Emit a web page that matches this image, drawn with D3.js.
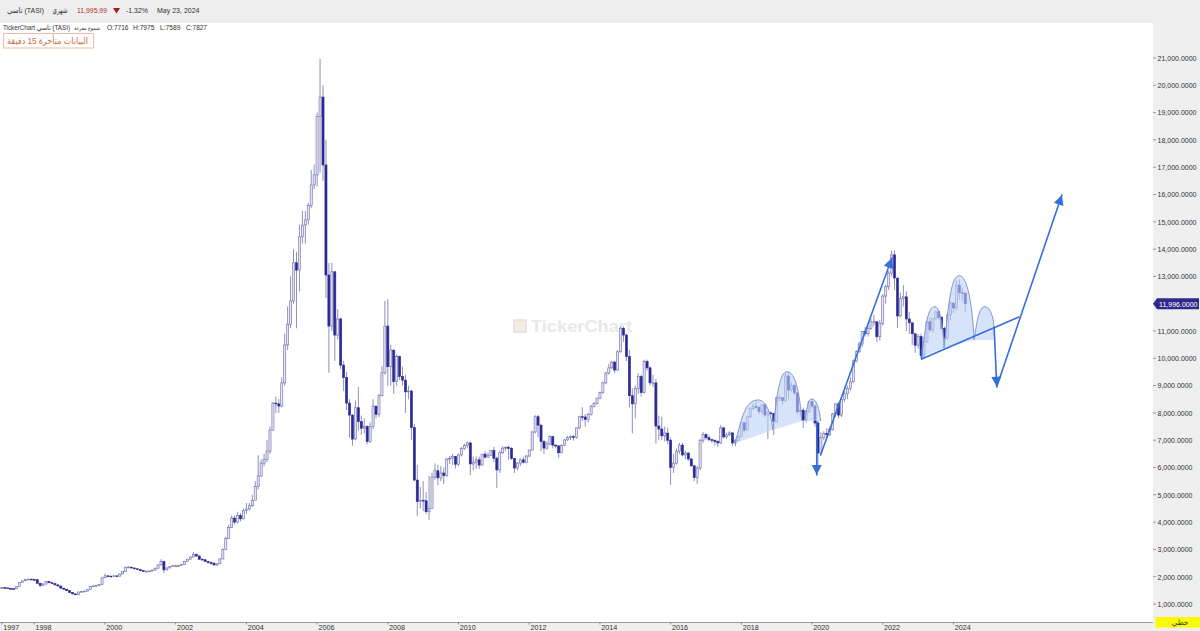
<!DOCTYPE html>
<html><head><meta charset="utf-8">
<script src="https://cdnjs.cloudflare.com/ajax/libs/d3/7.8.5/d3.min.js"></script>
<style>html,body{margin:0;padding:0;background:#fff}svg{display:block}text{font-family:"Liberation Sans","DejaVu Sans",sans-serif}</style>
</head><body><svg id="c" width="1200" height="631"></svg>
<script>
// Monthly candles, first month = Jan 1997 (open of each month = previous close)
const firstOpen = 1570;
const closes = [
1580,1600,1590,1570,1560,1555,1640,1790,1850,1900,1910,1900,
1890,1760,1680,1730,1820,1780,1750,1700,1660,1580,1540,1490,
1420,1370,1340,1440,1460,1470,1540,1640,1660,1680,1720,1960,
2030,2020,2010,2030,2020,2100,2190,2350,2350,2320,2290,2260,
2220,2200,2200,2210,2240,2310,2430,2560,2250,2320,2370,2400,
2400,2410,2450,2560,2640,2720,2820,2760,2640,2620,2560,2520,
2500,2430,2470,2650,2990,3400,3800,4150,4000,4250,4120,4430,
4480,4600,4800,5300,5690,6160,6300,6600,7370,8360,8330,8250,
9100,10490,11250,12100,13500,13230,14450,14880,15070,15600,16350,16720,
18850,19570,17080,13050,11180,13170,10850,11440,9750,9300,8360,7920,
7040,8190,7680,7440,7500,6950,7500,8250,7950,8630,9470,11180,
9690,10300,9150,10060,9330,9200,8770,8800,7460,5540,4750,4800,
4780,4380,4500,5650,5880,5620,5800,5700,6310,6340,6400,6120,
6460,6700,6800,6900,6130,6200,6280,6090,6490,6380,6450,6620,
6340,5910,6540,6710,6740,6700,6330,5980,6160,6280,6190,6420,
6640,7300,7860,7550,6950,6710,6860,7130,6820,6790,6540,6800,
7010,7100,7130,7110,7450,7860,7850,7760,7950,8230,8350,8540,
8750,9100,9460,9650,9860,9570,10240,11100,10850,10060,8630,8330,
8900,9330,8740,9880,9650,9100,9100,7520,7410,7160,7260,7000,
6000,6160,6600,6820,6460,6530,6310,6060,5630,5980,7000,7210,
7090,7020,7000,6950,6900,7450,7120,7200,7270,6900,7000,7130,
7640,7370,7860,8160,8230,8200,8050,8300,7920,8000,7980,7680,
8550,8560,8450,9350,8840,9000,8730,8040,8100,7740,8050,8410,
8250,7630,6530,7100,7250,7200,7400,7960,8330,7920,8500,8700,
8900,9140,9900,10240,10520,10980,10900,11100,11340,11340,10790,11280,
12280,12620,13120,13790,12940,11550,12200,12250,11440,11300,10900,10480,
10800,10100,10610,11340,11040,11460,11700,11500,11100,10740,11590,12020,
11840,12680,12400,12390,11996];
const highs = [
1600,1620,1610,1600,1580,1570,1650,1800,1870,1920,1930,1930,
1910,1890,1780,1760,1830,1830,1790,1750,1710,1670,1590,1550,
1500,1430,1380,1450,1480,1490,1550,1650,1680,1700,1740,1980,
2110,2060,2040,2050,2050,2110,2200,2370,2390,2370,2330,2310,
2270,2240,2230,2230,2260,2330,2450,2640,2580,2340,2390,2430,
2440,2430,2470,2580,2660,2750,2900,2850,2780,2680,2640,2570,
2560,2510,2500,2680,3040,3460,3900,4240,4230,4380,4330,4500,
4700,4700,5000,5500,6450,6300,6500,7000,7500,8400,8600,8500,
9300,10900,11900,13000,14000,13900,14900,15400,15400,15700,16900,17100,
19000,20966,20000,18000,13490,13500,13200,11800,11500,9900,9500,8500,
7950,8450,8950,7900,7800,7550,7650,8500,8250,8700,9700,12100,
12170,10500,10300,10150,10100,9700,9400,9000,8850,7600,6100,5300,
5500,5100,5700,5800,6150,6100,6050,6000,6350,6420,6500,6420,
6520,6750,6870,6950,6950,6400,6400,6400,6500,6600,6550,6640,
6760,6400,6620,6780,6780,6800,6750,6350,6200,6330,6400,6460,
6650,7350,7920,7930,7600,7000,6950,7180,7150,6850,6830,6850,
7040,7150,7180,7180,7470,7900,8210,7950,8000,8300,8400,8560,
8780,9150,9500,9800,9900,9900,10300,11160,11160,10900,10300,8900,
9000,9450,9400,9950,9950,9700,9400,9250,7900,7860,7500,7450,
7100,6500,6700,6900,6900,6600,6560,6350,6100,6050,7050,7300,
7250,7180,7060,7020,7000,7560,7500,7280,7330,7270,7050,7200,
7680,7660,7900,8190,8340,8400,8260,8330,8340,8080,8060,8000,
8600,8650,8580,9450,9500,9130,9050,8760,8150,8200,8100,8450,
8520,8300,7700,7300,7330,7450,7500,8000,8350,8400,8550,8800,
9000,9300,9950,10300,10600,11000,11150,11200,11450,11600,11360,11400,
12350,12700,13200,13950,13950,12950,12400,12680,12450,11700,11300,10800,
10900,10900,10750,11350,11500,11480,11750,11750,11550,11150,11650,12100,
12050,12850,12900,12600,12400];
const lows = [
1560,1575,1580,1560,1545,1540,1550,1640,1780,1840,1890,1880,
1850,1740,1620,1670,1720,1760,1730,1680,1640,1570,1520,1470,
1400,1350,1320,1330,1420,1450,1460,1530,1630,1650,1670,1700,
1950,2000,1990,2000,2000,2010,2090,2180,2320,2300,2270,2240,
2200,2180,2180,2190,2200,2230,2300,2410,2130,2230,2310,2360,
2370,2380,2400,2440,2550,2630,2710,2720,2620,2590,2540,2470,
2430,2400,2390,2460,2640,2970,3380,3780,3900,3950,4030,4100,
4300,4420,4550,4950,5200,5650,6050,6200,6500,7350,8000,8000,
8200,9000,10300,11100,12000,11100,12450,14200,14200,14900,15500,16200,
16300,16800,16500,12200,9470,11000,9900,10700,9600,8800,8100,7100,
6800,7000,7350,7200,7250,6850,6900,7400,7800,7850,8600,9400,
9000,9000,8700,9000,9200,9000,8000,8500,7000,5500,4220,4500,
4400,4300,4080,4650,5550,5350,5500,5400,5650,6130,6100,5960,
6050,6400,6650,6700,5720,5900,5950,5950,6050,6330,6350,6420,
6200,5250,5800,6500,6600,6280,6280,5800,5900,6050,6150,6150,
6380,6630,7250,7100,6600,6500,6650,6820,6700,6700,6350,6520,
6780,6980,7000,6980,7050,7400,7700,7500,7650,7900,8200,8300,
8500,8700,9050,9400,9600,9450,9550,10200,10600,9900,8200,7250,
7800,8700,8600,8700,9550,9000,8950,6880,7000,7000,6950,6850,
5360,5800,6100,6500,6400,6300,6250,6020,5500,5400,5900,6900,
7020,6950,6900,6800,6750,6860,7060,7050,7150,6780,6780,6970,
7100,7280,7330,7810,8100,8150,7950,7950,7850,7040,7900,7180,
7650,8430,8300,8400,8500,8780,8650,7950,7900,7450,7650,8000,
8180,7500,6000,6450,7000,7050,7150,7350,7850,7800,7850,8400,
8500,8800,9100,9850,10200,10400,10800,10800,11050,11200,10600,10650,
11200,12000,12500,13000,12500,11100,11500,11900,11000,10900,10490,10200,
10350,10000,10000,10550,10950,10950,11400,11400,11050,10600,10680,11400,
11650,11750,12150,12100,11700];

const yearTicks = [[1,"1997"],[12,"1998"],[36,"2000"],[60,"2002"],[84,"2004"],[108,"2006"],[132,"2008"],[156,"2010"],[180,"2012"],[204,"2014"],[228,"2016"],[252,"2018"],[276,"2020"],[300,"2022"],[324,"2024"]];
const priceTicks = d3.range(1000,21001,1000);
const lastPrice = 11996;

// Drawing annotations, in [month index, price]
const archFills = [
 [[249.9,6886],[257.7,8473],[262.7,7374]],
 [[262.7,7374],[267.6,9509],[272.5,7703]],
 [[273.6,7703],[275.9,8510],[278.9,7703]],
 [[313.2,10059],[317.7,11890],[320.8,10377]],
 [[320.8,10377],[326,13026],[331,10670]],
 [[331,10670],[334.7,11890],[337.8,11146]]
];
const archFoot = [[331,10670],[337.8,10670],[337.8,11146]];
const lines = [
 [[277.6,7678],[277.6,5725]],
 [[278.9,6458],[303.1,13674]],
 [[313.2,9974],[346.2,11513]],
 [[337.8,11146],[338.7,8960]],
 [[338.7,8960],[360.8,15982]],
 [[313.2,9974],[313.2,10300]]
];
const arrowHeadLines = [0,1,3,4];

const W=1200,H=631,plotR=1153,topH=23,bot=622;
const x=d3.scaleLinear().domain([0,390]).range([-1.06,1147.9]);
const y=d3.scaleLinear().domain([1000,21000]).range([604,58]);
const svg=d3.select("#c");
svg.append("rect").attr("width",W).attr("height",H).attr("fill","#fff");

// watermark
const wm=svg.append("g");
wm.append("rect").attr("x",514).attr("y",320).attr("width",12).attr("height",12).attr("fill","#f3ede4").attr("stroke","#e6e2dc").attr("stroke-width",1.5);
wm.append("text").attr("x",531).attr("y",331.5).attr("font-size",17).attr("font-weight","bold").attr("fill","#e8e8e8").attr("textLength",101).attr("lengthAdjust","spacingAndGlyphs").text("TickerChart");

// candles
const data=closes.map((c,i)=>({i,c,o:i?closes[i-1]:firstOpen,h:highs[i],l:lows[i]}));
const plot=svg.append("g");
plot.selectAll("line.w").data(data).join("line").attr("class","w")
 .attr("x1",d=>x(d.i)).attr("x2",d=>x(d.i)).attr("y1",d=>y(d.h)).attr("y2",d=>y(d.l))
 .attr("stroke","#8f8fb8").attr("stroke-width",1);
const bw=2.1;
plot.selectAll("rect.b").data(data).join("rect").attr("class","b")
 .attr("x",d=>x(d.i)-bw/2).attr("width",bw)
 .attr("y",d=>y(Math.max(d.o,d.c))).attr("height",d=>Math.max(.8,Math.abs(y(d.o)-y(d.c))))
 .attr("fill",d=>d.c>=d.o?"#e4e4f4":"#2a2a96")
 .attr("stroke",d=>d.c>=d.o?"#6c6cae":"#2a2a96").attr("stroke-width",.6);

// arches
const aBlue="#356fdc";
const arch=a=>{const [p0,pt,p1]=a.map(p=>[x(p[0]),y(p[1])]);
 const k=.55;
 return `M${p0[0]},${p0[1]}C${p0[0]+(pt[0]-p0[0])*.3},${p0[1]-(p0[1]-pt[1])*.62} ${pt[0]-(pt[0]-p0[0])*k},${pt[1]} ${pt[0]},${pt[1]}C${pt[0]+(p1[0]-pt[0])*k},${pt[1]} ${p1[0]-(p1[0]-pt[0])*.12},${p1[1]-(p1[1]-pt[1])*.55} ${p1[0]},${p1[1]}`;};
const ann=svg.append("g");
ann.append("path").attr("d",d3.line().x(d=>x(d[0])).y(d=>y(d[1]))(archFoot)).attr("fill","#bcd0f5").attr("fill-opacity",.6);
ann.selectAll("path.f").data(archFills).join("path").attr("class","f").attr("d",d=>arch(d)+"Z").attr("fill","#bcd0f5").attr("fill-opacity",.6);
ann.selectAll("path.s").data(archFills).join("path").attr("class","s").attr("d",d=>arch(d)).attr("fill","none").attr("stroke","#7f96d2").attr("stroke-width",1);
// straight lines
ann.selectAll("line.l").data(lines).join("line").attr("class","l")
 .attr("x1",d=>x(d[0][0])).attr("y1",d=>y(d[0][1])).attr("x2",d=>x(d[1][0])).attr("y2",d=>y(d[1][1]))
 .attr("stroke",aBlue).attr("stroke-width",1.6).attr("stroke-linecap","round");
ann.selectAll("path.h").data(arrowHeadLines.map(i=>lines[i])).join("path").attr("class","h")
 .attr("d",d=>{const tx=x(d[1][0]),ty=y(d[1][1]),a=Math.atan2(ty-y(d[0][1]),tx-x(d[0][0])),L=10,w=5,
   bx=tx-L*Math.cos(a),by=ty-L*Math.sin(a),nx=-Math.sin(a)*w,ny=Math.cos(a)*w;
   return `M${tx},${ty}L${bx+nx},${by+ny}L${bx-nx},${by-ny}Z`;})
 .attr("fill",aBlue);

// frames
svg.append("rect").attr("width",W).attr("height",topH).attr("fill","#eeeeee");
svg.append("rect").attr("x",plotR).attr("y",topH).attr("width",W-plotR).attr("height",H-topH).attr("fill","#efefef");
svg.append("rect").attr("x",0).attr("y",bot).attr("width",W).attr("height",H-bot).attr("fill","#efefef");
svg.append("line").attr("x1",0).attr("x2",plotR).attr("y1",bot+.5).attr("y2",bot+.5).attr("stroke","#9a9a9a");

// right axis
const yG=svg.append("g");
yG.selectAll("line").data(priceTicks).join("line").attr("x1",plotR).attr("x2",plotR+3).attr("y1",d=>y(d)).attr("y2",d=>y(d)).attr("stroke","#999");
yG.selectAll("text").data(priceTicks).join("text").attr("x",plotR+4.5).attr("y",d=>y(d)+2.8).attr("font-size",7.4).attr("fill","#333")
 .attr("textLength",d=>d>=10000?39:35).attr("lengthAdjust","spacingAndGlyphs").text(d=>d3.format(",.4f")(d));
// last price tag
const ty=y(lastPrice);
svg.append("path").attr("d",`M${plotR},${ty}L${plotR+4},${ty-5.5}H${W-1}V${ty+5.5}H${plotR+4}Z`).attr("fill","#2e2a8c");
svg.append("text").attr("x",plotR+6).attr("y",ty+2.8).attr("font-size",7.4).attr("fill","#fff").attr("textLength",38.5).attr("lengthAdjust","spacingAndGlyphs").text(d3.format(",.4f")(lastPrice));
// linear/log box
svg.append("rect").attr("x",1155.5).attr("y",617).attr("width",44.5).attr("height",10.5).attr("fill","#fbfb00");
svg.append("text").attr("x",1180).attr("y",625).attr("text-anchor","middle").attr("font-size",7.5).attr("fill","#333").text("خطي");

// bottom axis
const xG=svg.append("g");
xG.selectAll("line").data(yearTicks).join("line").attr("x1",d=>x(d[0])).attr("x2",d=>x(d[0])).attr("y1",bot).attr("y2",bot+2.5).attr("stroke","#888");
xG.selectAll("text").data(yearTicks).join("text").attr("x",d=>x(d[0])+1.3).attr("y",bot+8).attr("font-size",7.2).attr("fill","#333").text(d=>d[1]);

// header
const hdr=[[7,37,"تاسي (TASI)","#333"],[52.5,15,"شهري","#333"],[77,30,"11,995.99","#b03030"],[126,22,"-1.32%","#333"],[157,42.5,"May 23, 2024","#333"]];
svg.selectAll("text.hd").data(hdr).join("text").attr("class","hd").attr("x",d=>d[0]).attr("y",13).attr("font-size",8).attr("fill",d=>d[3])
 .attr("textLength",d=>d[1]).attr("lengthAdjust","spacingAndGlyphs").text(d=>d[2]);
svg.append("path").attr("d","M113,8H120L116.5,13.5Z").attr("fill","#a81818");
const sub=[[3,67,7,"TickerChart تاسي (TASI)"],[74,26,5.4,"شموع مفرغة"],[107,21.5,7,"O:7716"],[133,21.5,7,"H:7975"],[160,20.5,7,"L:7589"],[186,21,7,"C:7827"]];
svg.selectAll("text.sb").data(sub).join("text").attr("class","sb").attr("x",d=>d[0]).attr("y",29.5).attr("font-size",d=>d[2]).attr("fill","#333")
 .attr("textLength",d=>d[1]).attr("lengthAdjust","spacingAndGlyphs").text(d=>d[3]);
svg.append("rect").attr("x",3.5).attr("y",33.5).attr("width",90).attr("height",14.5).attr("fill","#fff").attr("stroke","#eebba5");
svg.append("text").attr("x",7).attr("y",44).attr("font-size",9).attr("fill","#cf6a45").attr("textLength",81).attr("lengthAdjust","spacingAndGlyphs").text("البيانات متأخرة 15 دقيقة");
</script></body></html>
